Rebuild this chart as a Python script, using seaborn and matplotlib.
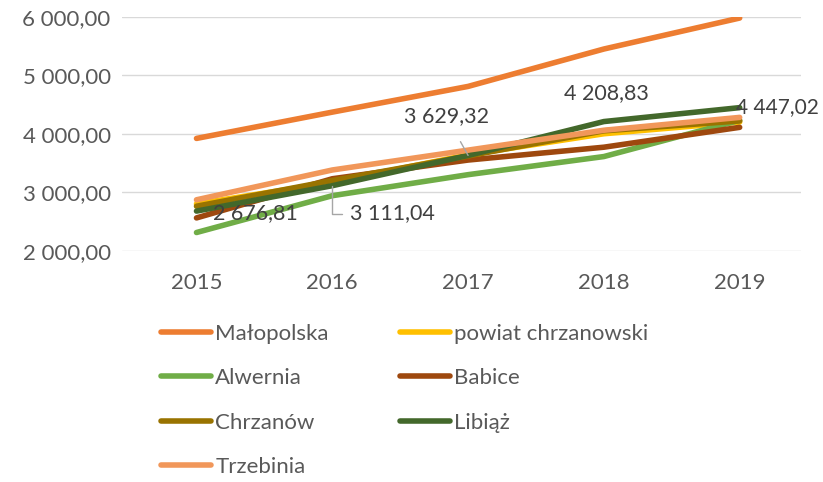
import pandas as pd
import matplotlib.pyplot as plt
import seaborn as sns
from matplotlib.lines import Line2D
from matplotlib.ticker import FuncFormatter

years = ["2015", "2016", "2017", "2018", "2019"]
malopolska = [3920, 4370, 4810, 5450, 5980]
powiat = [2800, 3170, 3640, 4000, 4200]
alwernia = [2310, 2940, 3300, 3610, 4230]
babice = [2560, 3230, 3550, 3770, 4110]
chrzanow = [2760, 3200, 3620, 4050, 4220]
libiaz = [2676.81, 3111.04, 3629.32, 4208.83, 4447.02]
trzebinia = [2870, 3380, 3720, 4060, 4280]

series = {
    "Małopolska": malopolska,
    "powiat chrzanowski": powiat,
    "Alwernia": alwernia,
    "Babice": babice,
    "Chrzanów": chrzanow,
    "Libiąż": libiaz,
    "Trzebinia": trzebinia,
}
colors = {
    "Małopolska": "#ED7D31",
    "powiat chrzanowski": "#FFC000",
    "Alwernia": "#70AD47",
    "Babice": "#9E480E",
    "Chrzanów": "#997300",
    "Libiąż": "#43682B",
    "Trzebinia": "#F1975A",
}

rows = []
for name, vals in series.items():
    for i, v in enumerate(vals):
        rows.append({"idx": i, "value": v, "series": name})
df = pd.DataFrame(rows)

sns.set_theme(style="white")
plt.rcParams["font.family"] = ["Lato", "DejaVu Sans"]
text_color = "#595959"

fig = plt.figure(figsize=(8.23, 4.82), dpi=100)
ax = fig.add_axes([0.148, 0.48, 0.825, 0.485])

sns.lineplot(data=df, x="idx", y="value", hue="series", palette=colors,
             linewidth=4, legend=False, ax=ax, solid_capstyle="round")

ax.set_xlim(-0.55, 4.45)
ax.set_ylim(2000, 6000)
ax.set_yticks([2000, 3000, 4000, 5000, 6000])
ax.set_xticks(range(len(years)))
ax.set_xticklabels(years)
ax.yaxis.set_major_formatter(FuncFormatter(lambda v, p: f"{int(v):,}".replace(",", " ") + ",00"))
ax.grid(axis="y", color="#D9D9D9", linewidth=1)
for s in ax.spines.values():
    s.set_visible(False)
ax.tick_params(axis="both", labelsize=16, colors=text_color, length=0)
ax.tick_params(axis="x", pad=16)
ax.tick_params(axis="y", pad=8)
ax.set_xlabel("")
ax.set_ylabel("")

# data labels for Libiąż
lbl = lambda v: f"{v:,.2f}".replace(",", " ").replace(".", ",")
fs = 15.5
lc = "#404040"
ax.annotate(lbl(libiaz[0]), (0, libiaz[0]), xytext=(0.12, 2635),
            fontsize=fs, color=lc, va="center", ha="left")
ax.annotate(lbl(libiaz[1]), (1, libiaz[1]), xytext=(1.13, 2635),
            fontsize=fs, color=lc, va="center", ha="left",
            arrowprops=dict(arrowstyle="-", color="#A6A6A6", lw=1, shrinkA=3, shrinkB=0,
                            connectionstyle="angle,angleA=0,angleB=90,rad=0"))
ax.annotate(lbl(libiaz[2]), (2, libiaz[2]), xytext=(1.84, 4300),
            fontsize=fs, color=lc, va="center", ha="center",
            arrowprops=dict(arrowstyle="-", color="#A6A6A6", lw=1, shrinkA=10, shrinkB=0))
ax.annotate(lbl(libiaz[3]), (3, libiaz[3]), xytext=(3.02, 4700),
            fontsize=fs, color=lc, va="center", ha="center")
ax.annotate(lbl(libiaz[4]), (4, libiaz[4]), xytext=(3.975, 4455),
            fontsize=15, color=lc, va="center", ha="left")

names = list(series.keys())
order = [0, 2, 4, 6, 1, 3, 5]
handles = [Line2D([0], [0], color=colors[names[i]], lw=4, solid_capstyle="round") for i in order]
labels = [names[i] for i in order]
fig.legend(handles, labels, ncol=2, loc="upper left", bbox_to_anchor=(0.171, 0.37),
           frameon=False, fontsize=16, labelcolor=text_color, handlelength=2.25,
           handletextpad=0.2, columnspacing=3.2, labelspacing=1.1)

fig.savefig("out.png", dpi=100)
